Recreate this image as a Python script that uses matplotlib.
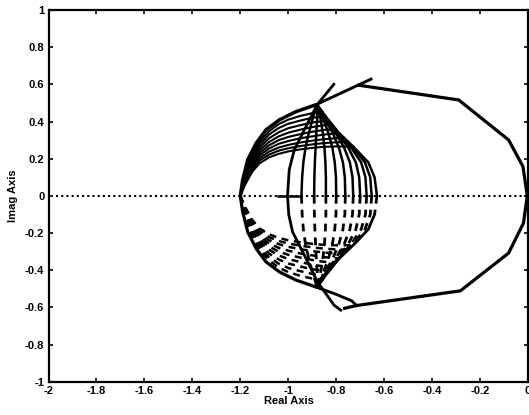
import numpy as np
import matplotlib
matplotlib.use('Agg')
import matplotlib.pyplot as plt

plt.rcParams['font.family'] = ['Liberation Sans', 'DejaVu Sans']
plt.rcParams['axes.unicode_minus'] = False

# === Data (upper half; lower half is the mirror) ===
# outer locus, left side: from the break-in point up to the top cusp
ENV_X = [-1.20, -1.19, -1.169, -1.134, -1.093, -1.037, -0.968, -0.885]
ENV_Y = [0.0, 0.086, 0.194, 0.283, 0.355, 0.409, 0.453, 0.49]

# big solid arc through both cusps
ARC_X = [-0.81, -0.88, -0.94, -0.975, -0.996, -1.003, -0.998, -0.982, -0.933, -0.878, -0.809, -0.781]
ARC_Y = [0.60, 0.49, 0.337, 0.247, 0.14, 0.0, -0.10, -0.194, -0.319, -0.463, -0.588, -0.615]

# outer polygon (right part of the locus)
POLY_X = [-0.705, -0.289, -0.081, -0.021, -0.003, -0.019, -0.081, -0.282, -0.715, -0.765]
POLY_Y = [0.595, 0.516, 0.301, 0.158, 0.0, -0.147, -0.308, -0.511, -0.590, -0.605]
TOP_STUB_X = [-0.885, -0.655]
TOP_STUB_Y = [0.49, 0.628]
BOT_STUB_X = [-0.885, -0.80, -0.735, -0.715]
BOT_STUB_Y = [-0.49, -0.53, -0.565, -0.590]

# short solid piece on the real axis
SEG_X = [-1.044, -0.947]

# "meridians": from the real axis up to the top cusp
MER_Y = [0.0, 0.10, 0.18, 0.26, 0.34, 0.42, 0.49]
MER_X = [
    [-0.945, -0.942, -0.937, -0.928, -0.914, -0.897, -0.88],
    [-0.892, -0.891, -0.889, -0.886, -0.883, -0.879, -0.88],
    [-0.843, -0.843, -0.845, -0.849, -0.856, -0.866, -0.88],
    [-0.800, -0.801, -0.806, -0.816, -0.833, -0.856, -0.88],
    [-0.762, -0.764, -0.772, -0.789, -0.815, -0.850, -0.88],
    [-0.729, -0.732, -0.743, -0.767, -0.803, -0.846, -0.88],
    [-0.700, -0.704, -0.718, -0.750, -0.795, -0.844, -0.88],
    [-0.673, -0.678, -0.696, -0.738, -0.792, -0.842, -0.88],
    [-0.652, -0.658, -0.680, -0.730, -0.791, -0.841, -0.88],
    [-0.630, -0.640, -0.666, -0.725, -0.790, -0.840, -0.88],
]

# "parallels": from the break-in point across to the right boundary
PAR_X = [-1.20, -1.18, -1.15, -1.12, -1.08, -1.04, -1.00, -0.95, -0.90, -0.85, -0.80, -0.75]
PAR_Y = [
    [0, 0.13, 0.232, 0.29, 0.348, 0.386, 0.41, 0.43, 0.445],
    [0, 0.12, 0.218, 0.275, 0.330, 0.365, 0.388, 0.405, 0.42],
    [0, 0.11, 0.205, 0.26, 0.31, 0.342, 0.364, 0.38, 0.395],
    [0, 0.10, 0.192, 0.245, 0.29, 0.32, 0.34, 0.356, 0.37, 0.38],
    [0, 0.09, 0.18, 0.23, 0.272, 0.30, 0.317, 0.332, 0.345, 0.355],
    [0, 0.085, 0.167, 0.217, 0.255, 0.28, 0.295, 0.31, 0.32, 0.33],
    [0, 0.078, 0.155, 0.203, 0.238, 0.26, 0.274, 0.287, 0.297, 0.305, 0.31],
    [0, 0.07, 0.142, 0.19, 0.222, 0.243, 0.256, 0.268, 0.277, 0.284, 0.288],
    [0, 0.06, 0.13, 0.175, 0.207, 0.226, 0.239, 0.25, 0.258, 0.264, 0.266, 0.266],
]
PAR_END = [(-0.86, 0.453), (-0.845, 0.428), (-0.831, 0.405), (-0.817, 0.384),
           (-0.802, 0.36), (-0.788, 0.337), (-0.77, 0.313), (-0.749, 0.29),
           (-0.729, 0.265)]

XTICKS = [-2, -1.8, -1.6, -1.4, -1.2, -1, -0.8, -0.6, -0.4, -0.2, 0]
XLABELS = ['-2', '-1.8', '-1.6', '-1.4', '-1.2', '-1', '-0.8', '-0.6', '-0.4', '-0.2', '0']
YTICKS = [-1, -0.8, -0.6, -0.4, -0.2, 0, 0.2, 0.4, 0.6, 0.8, 1]
YLABELS = ['-1', '-0.8', '-0.6', '-0.4', '-0.2', '0', '0.2', '0.4', '0.6', '0.8', '1']

# === Plot ===
fig = plt.figure(figsize=(5.29, 4.15), dpi=100)
ax = fig.add_axes([0.0917, 0.0802, 0.9064, 0.8957])

K = 'black'
LW = 1.8
DASH = (0, (2.8, 2.2))

# real axis
ax.plot([-1.97, 0], [0, 0], color=K, lw=1.5, ls=(0, (1, 1.5)))
ax.plot(SEG_X, [0, 0], color=K, lw=LW)

# outer locus (both halves solid)
ax.plot(ENV_X, ENV_Y, color=K, lw=2.5, solid_capstyle='round')
ax.plot(ENV_X, [-v for v in ENV_Y], color=K, lw=2.3, solid_capstyle='round')
ax.plot(ARC_X, ARC_Y, color=K, lw=2.0)
ax.plot(POLY_X, POLY_Y, color=K, lw=2.3)
ax.plot(TOP_STUB_X, TOP_STUB_Y, color=K, lw=2.1)
ax.plot(BOT_STUB_X, BOT_STUB_Y, color=K, lw=2.1)

# meridians: solid above, dashed below
for i, xs in enumerate(MER_X):
    ax.plot(xs, MER_Y, color=K, lw=LW)
    neg = [-v for v in MER_Y]
    if i == len(MER_X) - 1:
        ax.plot(xs[:2], neg[:2], color=K, lw=2.0, ls=DASH)
        ax.plot(xs[1:], neg[1:], color=K, lw=2.0)
    else:
        ax.plot(xs, neg, color=K, lw=2.0, ls=DASH)

# parallels: solid above, dashed below
for ys, (ex, ey) in zip(PAR_Y, PAR_END):
    xs = PAR_X[:len(ys)] + [ex]
    yy = ys + [ey]
    ax.plot(xs, yy, color=K, lw=1.5)
    ax.plot(xs, [-v for v in yy], color=K, lw=1.8, ls=DASH)

ax.set_xlim(-2, 0)
ax.set_ylim(-1, 1)
ax.set_xticks(XTICKS)
ax.set_xticklabels(XLABELS)
ax.set_yticks(YTICKS)
ax.set_yticklabels(YLABELS)
ax.tick_params(direction='in', length=3, width=1.2, top=True, right=True,
               labelsize=8, pad=3)
for lab in ax.get_xticklabels() + ax.get_yticklabels():
    lab.set_fontweight('bold')
for sp in ax.spines.values():
    sp.set_linewidth(1.6)

fig.text(0.5457, 0.0337, 'Real Axis', ha='center', va='center',
         fontsize=8, fontweight='bold')
fig.text(0.0255, 0.5277, 'Imag Axis', ha='center', va='center',
         rotation=90, fontsize=8, fontweight='bold')

plt.savefig('out.png', dpi=100)
plt.close()
